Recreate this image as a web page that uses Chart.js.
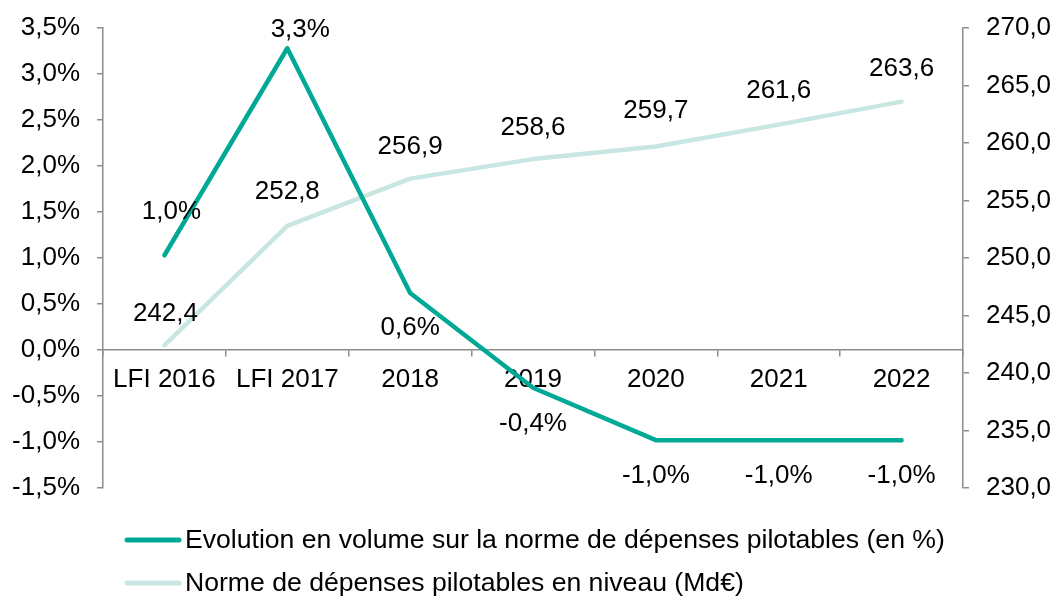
<!DOCTYPE html>
<html>
<head>
<meta charset="utf-8">
<script src="https://cdn.jsdelivr.net/npm/chart.js@4/dist/chart.umd.min.js"></script>
<style>
  html, body { margin: 0; padding: 0; background: #fff; }
  #wrap { width: 1055px; height: 598px; position: relative; }
</style>
</head>
<body>
<div id="wrap"><canvas id="c" width="1055" height="598"></canvas></div>
<script>
const categories = ['LFI 2016', 'LFI 2017', '2018', '2019', '2020', '2021', '2022'];
const volumeLabel = 'Evolution en volume sur la norme de dépenses pilotables (en %)';
const levelLabel = 'Norme de dépenses pilotables en niveau (Md€)';
const volumeValues = [1.03, 3.28, 0.62, -0.41, -0.98, -0.98, -0.98];
const levelValues = [242.4, 252.8, 256.9, 258.6, 259.7, 261.6, 263.6];

const DARK = 'rgb(0,168,150)';
const LIGHT = 'rgb(200,230,226)';
const AXIS = '#8c8c8c';
const FONT = '"Liberation Sans", Arial, sans-serif';
const FS = 26;
const LEGEND_FS = 26.6;

const fmt = (v, d) => v.toFixed(d).replace('.', ',');

const pointLabels = {
  id: 'pointLabels',
  afterDatasetsDraw(chart, args, opts) {
    const ctx = chart.ctx;
    ctx.save();
    ctx.font = FS + 'px ' + FONT;
    ctx.fillStyle = '#000';
    ctx.textAlign = 'center';
    ctx.textBaseline = 'middle';
    chart.data.datasets.forEach((ds, i) => {
      const meta = chart.getDatasetMeta(i);
      const offs = opts.offsets[i];
      meta.data.forEach((pt, j) => {
        const o = offs[j];
        const v = ds.data[j];
        const txt = i === 0 ? fmt(v, 1) + '%' : fmt(v, 1);
        ctx.fillText(txt, pt.x + o[0], pt.y + o[1]);
      });
    });
    ctx.restore();
  }
};

const customLegend = {
  id: 'customLegend',
  afterDraw(chart) {
    const ctx = chart.ctx;
    ctx.save();
    ctx.font = LEGEND_FS + 'px ' + FONT;
    ctx.textBaseline = 'middle';
    ctx.textAlign = 'left';
    const rows = [540, 583];
    chart.data.datasets.forEach((ds, i) => {
      const y = rows[i];
      ctx.strokeStyle = ds.borderColor;
      ctx.lineWidth = 5;
      ctx.lineCap = 'round';
      ctx.beginPath();
      ctx.moveTo(127, y);
      ctx.lineTo(179, y);
      ctx.stroke();
      ctx.fillStyle = '#000';
      ctx.fillText(ds.label, 185, y + 1);
    });
    ctx.restore();
  }
};

function fixY(width) {
  return function (s) { s.width = width; s.paddingTop = 0; s.paddingBottom = 0; };
}

new Chart(document.getElementById('c'), {
  type: 'line',
  data: {
    labels: categories,
    datasets: [
      { label: volumeLabel, data: volumeValues, yAxisID: 'y', borderColor: DARK, backgroundColor: DARK,
        borderWidth: 4.5, pointRadius: 0, tension: 0, borderCapStyle: 'round', borderJoinStyle: 'round', order: 0 },
      { label: levelLabel, data: levelValues, yAxisID: 'y2', borderColor: LIGHT, backgroundColor: LIGHT,
        borderWidth: 4.5, pointRadius: 0, tension: 0, borderCapStyle: 'round', borderJoinStyle: 'round', order: 1 }
    ]
  },
  options: {
    responsive: false,
    animation: false,
    events: [],
    layout: { padding: { top: 28, bottom: 110, left: 0, right: 0 } },
    plugins: {
      legend: { display: false },
      tooltip: { enabled: false },
      pointLabels: {
        offsets: [
          [[7, -43], [13, -18], [0, 35], [0, 36], [0, 36], [0, 36], [0, 36]],
          [[1, -32], [0, -34], [0, -32], [0, -31], [0, -36], [0, -34], [0, -33]]
        ]
      }
    },
    scales: {
      x: {
        type: 'category',
        offset: true,
        position: { y: 0 },
        grid: { display: true, offset: true, drawOnChartArea: false, drawTicks: true, tickLength: 6, color: AXIS, lineWidth: 1.5 },
        border: { display: true, color: AXIS, width: 1.5 },
        ticks: { color: '#000', font: { family: FONT, size: FS }, padding: 8, maxRotation: 0, autoSkip: false }
      },
      y: {
        position: 'left',
        min: -1.5, max: 3.5,
        afterFit: fixY(103),
        grid: { drawOnChartArea: false, drawTicks: true, tickLength: 6, color: AXIS, lineWidth: 1.5 },
        border: { display: true, color: AXIS, width: 1.5 },
        ticks: { stepSize: 0.5, color: '#000', font: { family: FONT, size: FS }, padding: 17,
          callback: v => fmt(v, 1) + '%' }
      },
      y2: {
        position: 'right',
        min: 230, max: 270,
        afterFit: fixY(92),
        grid: { drawOnChartArea: false, drawTicks: true, tickLength: 6, color: AXIS, lineWidth: 1.5 },
        border: { display: true, color: AXIS, width: 1.5 },
        ticks: { stepSize: 5, color: '#000', font: { family: FONT, size: FS }, padding: 17,
          callback: v => fmt(v, 1) }
      }
    }
  },
  plugins: [pointLabels, customLegend]
});
</script>
</body>
</html>
